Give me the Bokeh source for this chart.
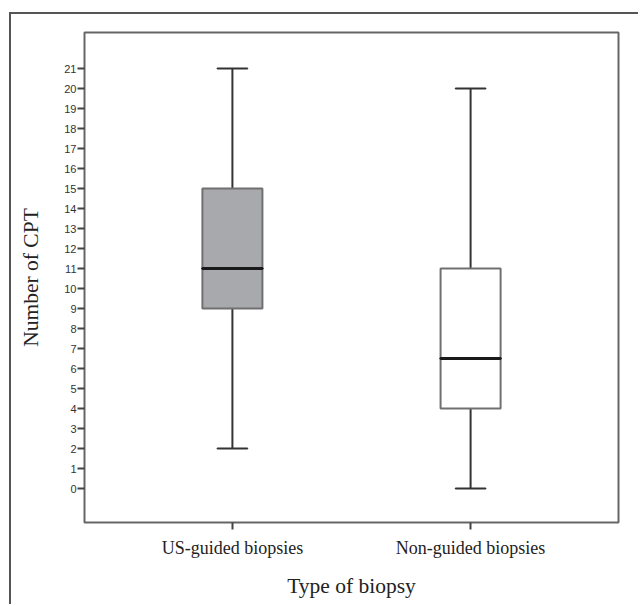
from bokeh.plotting import figure
from bokeh.models import FactorRange, Range1d, FixedTicker, ColumnDataSource
from bokeh.embed import file_html
from bokeh.resources import INLINE

categories = ["US-guided biopsies", "Non-guided biopsies"]
mins = [2, 0]
q1 = [9, 4]
medians = [11, 6.5]
q3 = [15, 11]
maxs = [21, 20]
fills = ["#a8a9ad", "#ffffff"]
y_ticks = list(range(0, 22))

src = ColumnDataSource(dict(cat=categories, lo=mins, q1=q1, med=medians, q3=q3, hi=maxs, fill=fills))

p = figure(
    width=629, height=592,
    x_range=FactorRange(*categories, range_padding=0.121, range_padding_units="absolute"),
    y_range=Range1d(-1.7, 22.8),
    output_backend="svg", toolbar_location=None,
    min_border_left=73, min_border_right=22, min_border_top=18, min_border_bottom=84,
)
p.margin = (12, 0, 0, 9)
p.styles = {"border-left": "2px solid #555555", "border-top": "2px solid #555555"}

p.xgrid.visible = False
p.ygrid.visible = False
p.outline_line_color = "#666666"
p.outline_line_width = 2

# whiskers
p.segment(x0="cat", y0="q3", x1="cat", y1="hi", source=src, line_color="#333333", line_width=2)
p.segment(x0="cat", y0="lo", x1="cat", y1="q1", source=src, line_color="#333333", line_width=2)
# caps
p.rect(x="cat", y="hi", width=0.126, height=0.0001, source=src, line_color="#333333", line_width=2, fill_color=None)
p.rect(x="cat", y="lo", width=0.126, height=0.0001, source=src, line_color="#333333", line_width=2, fill_color=None)
# boxes
p.vbar(x="cat", bottom="q1", top="q3", width=0.252, source=src, fill_color="fill", line_color="#707070", line_width=2)
# medians
p.rect(x="cat", y="med", width=0.252, height=0.0001, source=src, line_color="#1a1a1a", line_width=3, fill_color=None)

p.yaxis.ticker = FixedTicker(ticks=y_ticks)
for ax in (p.xaxis, p.yaxis):
    ax.axis_line_color = None
    ax.major_tick_line_color = "#444444"
    ax.major_tick_line_width = 2
    ax.major_tick_in = 0
    ax.major_tick_out = 7
    ax.minor_tick_line_color = None

p.yaxis.major_label_text_font = "Liberation Sans"
p.yaxis.major_label_text_font_size = "11px"
p.yaxis.major_label_text_color = "#333333"
p.yaxis.major_label_standoff = 1
p.yaxis.axis_label = "Number of CPT"
p.yaxis.axis_label_text_font = "Liberation Serif"
p.yaxis.axis_label_text_font_style = "normal"
p.yaxis.axis_label_text_font_size = "21.5px"
p.yaxis.axis_label_text_color = "#222222"
p.yaxis.axis_label_standoff = 18

p.xaxis.major_label_text_font = "Liberation Serif"
p.xaxis.major_label_text_font_size = "18px"
p.xaxis.major_label_text_color = "#222222"
p.xaxis.major_label_standoff = 8
p.xaxis.axis_label = "Type of biopsy"
p.xaxis.axis_label_text_font = "Liberation Serif"
p.xaxis.axis_label_text_font_style = "normal"
p.xaxis.axis_label_text_font_size = "21.5px"
p.xaxis.axis_label_text_color = "#222222"
p.xaxis.axis_label_standoff = 13

open("out.html", "w").write(file_html(p, INLINE))
